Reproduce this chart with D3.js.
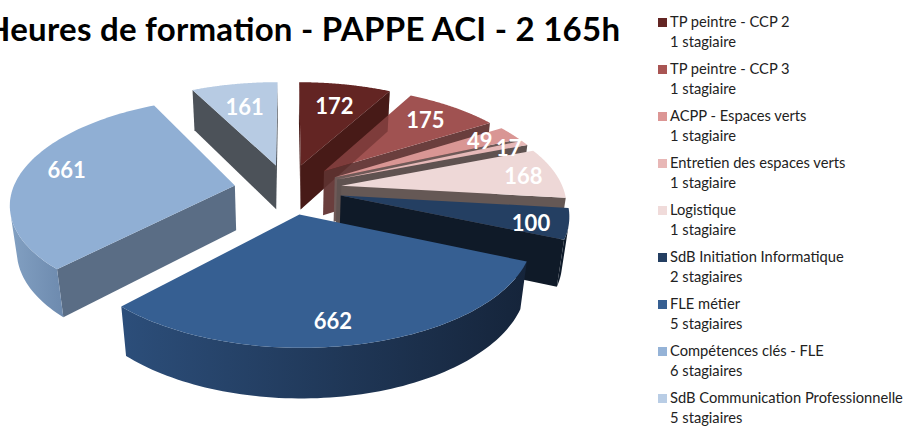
<!DOCTYPE html>
<html><head><meta charset="utf-8">
<script src="https://cdnjs.cloudflare.com/ajax/libs/d3/7.8.5/d3.min.js"></script>
<style>html,body{margin:0;background:#fff;overflow:hidden}svg{display:block;font-family:Lato,"Open Sans",sans-serif}</style>
</head><body><svg id="c" width="905" height="426"></svg>
<script>
const categories=["TP peintre - CCP 2","TP peintre - CCP 3","ACPP - Espaces verts","Entretien des espaces verts","Logistique","SdB Initiation Informatique","FLE métier","Compétences clés - FLE","SdB Communication Professionnelle"];
const trainees=["1 stagiaire","1 stagiaire","1 stagiaire","1 stagiaire","1 stagiaire","2 stagiaires","5 stagiaires","6 stagiaires","5 stagiaires"];
const hours=[172,175,49,17,168,100,662,661,161];
const titleText="Heures de formation - PAPPE ACI - 2 165h";
const topColors=["#632523","#a05251","#d99694","#e6b9b8","#eed8d7","#243f62","#365f92","#90afd4","#b7cbe3"];
const cutColors=["#471a17","#6a3e3d","#6f5a58","#5f5250","#655855","#0f1a28","#1b2f49","#5a6d85","#4c5259"];
const arcFrom=["#471a17","#6a3e3d","#6f5a58","#5f5250","#655855","#101c2b","#2c4e7a","#82a0c2","#4c5259"];
const arcTo=["#471a17","#6a3e3d","#6f5a58","#5f5250","#655855","#101c2b","#15243a","#6d8aae","#4c5259"];
const legendColors=["#632523","#a95553","#dc9695","#e8b7b6","#f0dbda","#243f62","#365f92","#95b3d7","#b9cde5"];
const labelNudge=[[-1,4],[2,-2],[11,-3],[29,-3],[21,0],[21,7],[-8,14],[-8,-4],[1,5]];

// Projection fitted to the picture
const cx=288,cy=189,tilt=.465,persp=.00071,thick=46,thickPersp=.025,R=222,explode=54,eyeY=-1030;
const rScale=d3.scaleLinear().domain([0,1]).range([0,R]);
function proj(X,Y,low){const w=1+persp*Y+(low?thickPersp:0);return [cx+X/w,cy-(tilt*Y-(low?thick:0))/w];}
const svg=d3.select("#c");
const defs=svg.append("defs");
const line=d3.line();
const slices=d3.pie().sort(null)(hours);
const built=slices.map((s,i)=>{
  const m=(s.startAngle+s.endAngle)/2,ex=explode*Math.sin(m),ey=explode*Math.cos(m);
  const pt=(a,f=1)=>[ex+rScale(f)*Math.sin(a),ey+rScale(f)*Math.cos(a)];
  return {s,i,m,ex,ey,pt};
});
function cutFace(b,a,sign){
  const n=[Math.sin(a+sign*Math.PI/2),Math.cos(a+sign*Math.PI/2)];
  const vis=n[0]*(0-b.ex)+n[1]*(eyeY-b.ey)>0;
  if(!vis)return null;
  const q=b.pt(a);
  return line([proj(b.ex,b.ey,false),proj(q[0],q[1],false),proj(q[0],q[1],true),proj(b.ex,b.ey,true)])+"Z";
}
function drawSlice(b){
  const g=svg.append("g");
  [[b.s.startAngle,-1],[b.s.endAngle,1]].forEach(([a,sg])=>{
    const d=cutFace(b,a,sg);
    if(d)g.append("path").attr("d",d).attr("fill",cutColors[b.i]);
  });
  const steps=d3.range(0,81).map(k=>b.s.startAngle+(b.s.endAngle-b.s.startAngle)*k/80);
  const vis=steps.filter(a=>{
    const p=b.pt(a);
    return Math.sin(a)*(0-p[0])+Math.cos(a)*(eyeY-p[1])>0;
  });
  if(vis.length>1){
    const id="arc"+b.i;
    const gr=defs.append("linearGradient").attr("id",id);
    gr.append("stop").attr("offset",0).attr("stop-color",arcFrom[b.i]);
    gr.append("stop").attr("offset",1).attr("stop-color",arcTo[b.i]);
    const upper=vis.map(a=>{const p=b.pt(a);return proj(p[0],p[1],false);});
    const lower=vis.map(a=>{const p=b.pt(a);return proj(p[0],p[1],true);}).reverse();
    g.append("path").attr("d",line(upper.concat(lower))+"Z").attr("fill",`url(#${id})`);
  }
  const rim=steps.map(a=>{const p=b.pt(a);return proj(p[0],p[1],false);});
  g.append("path").attr("d",line([proj(b.ex,b.ey,false)].concat(rim))+"Z").attr("fill",topColors[b.i]);
}
// painter's order: far slices first, then the near ones
[0,1].forEach(i=>drawSlice(built[i]));
// the dark cut of the first slice shows through the tip of the second
const veil=cutFace(built[0],built[0].s.endAngle,1);
svg.append("path").attr("d",veil).attr("fill",cutColors[0]).attr("fill-opacity",.38);
[2,3,4,5,8,7,6].forEach(i=>drawSlice(built[i]));

built.forEach(b=>{
  const p=b.pt(b.m,.75),q=proj(p[0],p[1],false);
  svg.append("text").attr("x",q[0]+labelNudge[b.i][0]).attr("y",q[1]+labelNudge[b.i][1])
    .attr("dy",".35em").attr("text-anchor","middle").attr("fill","#fff")
    .attr("font-weight",700).attr("font-size",22).text(hours[b.i]);
});
svg.append("text").attr("x",-15).attr("y",41).attr("font-weight",700).attr("font-size",33).attr("textLength",635).attr("lengthAdjust","spacing").attr("fill","#000").text(titleText);

const row=d3.scaleBand().domain(categories).range([0,423]);
const lg=svg.append("g").selectAll("g").data(categories).join("g").attr("transform",d=>`translate(658,${row(d)})`);
lg.append("rect").attr("x",0).attr("y",18).attr("width",9).attr("height",9).attr("fill",(d,i)=>legendColors[i]);
lg.append("text").attr("x",12).attr("y",27).attr("font-size",14.7).attr("fill","#222").text(d=>d);
lg.append("text").attr("x",12).attr("y",47).attr("font-size",14.7).attr("fill","#222").text((d,i)=>trainees[i]);
</script></body></html>
